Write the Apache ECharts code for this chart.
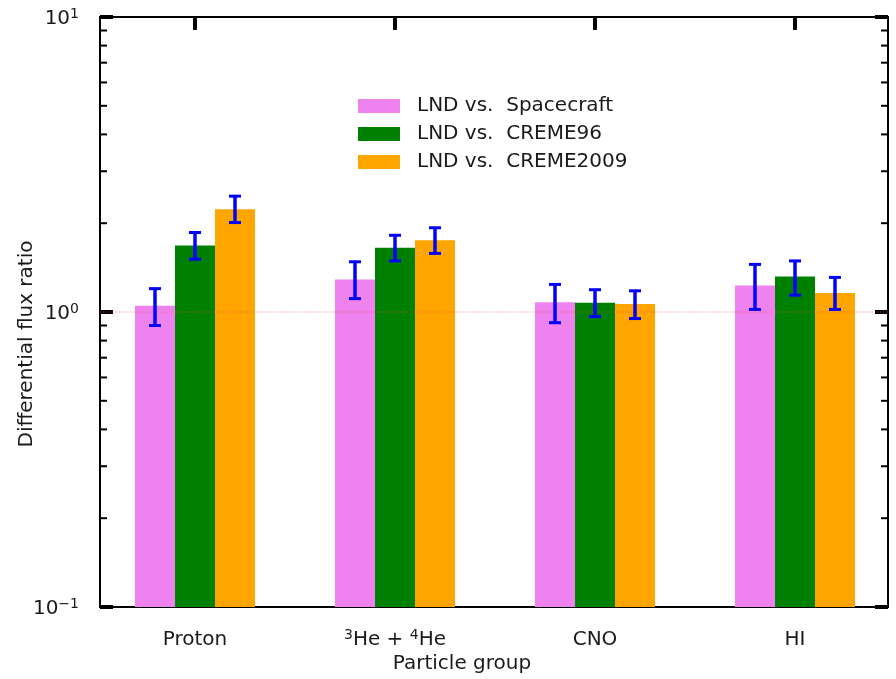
<!DOCTYPE html>
<html>
<head>
<meta charset="utf-8">
<script src="https://cdn.jsdelivr.net/npm/echarts@6/dist/echarts.min.js"></script>
<style>html,body{margin:0;padding:0;background:#fff}#c{width:896px;height:679px}</style>
</head>
<body>
<div id="c"></div>
<script>
// ---- data ----
var categories = ['Proton', '³He + ⁴He', 'CNO', 'HI'];
var seriesNames = ['LND vs.  Spacecraft', 'LND vs.  CREME96', 'LND vs.  CREME2009'];
var spacecraft   = [1.05, 1.29, 1.08, 1.23];
var spacecraftLo = [0.90, 1.11, 0.92, 1.02];
var spacecraftHi = [1.20, 1.48, 1.24, 1.45];
var creme96   = [1.68, 1.65, 1.075, 1.32];
var creme96Lo = [1.51, 1.49, 0.965, 1.14];
var creme96Hi = [1.86, 1.82, 1.19, 1.49];
var creme2009   = [2.23, 1.75, 1.065, 1.16];
var creme2009Lo = [2.01, 1.58, 0.95, 1.02];
var creme2009Hi = [2.47, 1.93, 1.18, 1.31];
var yMin = 0.1, yMax = 10;
var refValue = 1;
var minorTicks = [0.2,0.3,0.4,0.5,0.6,0.7,0.8,0.9,2,3,4,5,6,7,8,9];
var xTickValues = [0, 1, 2, 3];

// ---- layout / style ----
var colors = ['#ee82ee', '#008000', '#ffa500'];
var offsets = [-0.2, 0, 0.2];
var halfW = 0.1;
var FONT = 'DejaVu Sans';
var TXT = '#1a1a1a';

var values = [spacecraft, creme96, creme2009];
var los = [spacecraftLo, creme96Lo, creme2009Lo];
var his = [spacecraftHi, creme96Hi, creme2009Hi];

var series = [];
values.forEach(function (vals, k) {
  series.push({
    name: seriesNames[k],
    type: 'custom',
    itemStyle: { color: colors[k] },
    clip: false,
    z: 2,
    encode: { x: 0, y: 1 },
    data: vals.map(function (v, i) { return [i, v]; }),
    renderItem: function (params, api) {
      var i = api.value(0), v = api.value(1);
      var p1 = api.coord([i + offsets[k] - halfW, v]);
      var p0 = api.coord([i + offsets[k] + halfW, yMin]);
      return {
        type: 'rect',
        shape: { x: p1[0], y: p1[1], width: p0[0] - p1[0], height: p0[1] - p1[1] },
        style: { fill: colors[k] }
      };
    }
  });
});

// reference line at 1
series.push({
  type: 'custom', z: 3, clip: false, silent: true,
  data: [[0, refValue]],
  encode: { x: 0, y: 1 },
  renderItem: function (params, api) {
    var cs = params.coordSys;
    var y = api.coord([0, api.value(1)])[1];
    return { type: 'line', shape: { x1: cs.x, y1: y, x2: cs.x + cs.width, y2: y },
      style: { stroke: '#ff4d4d', opacity: 0.5, lineWidth: 1, lineDash: [1.5, 1.5] } };
  }
});

// error bars
values.forEach(function (vals, k) {
  series.push({
    type: 'custom', z: 4, clip: false, silent: true,
    data: vals.map(function (v, i) { return [i, los[k][i], his[k][i]]; }),
    encode: { x: 0, y: [1, 2] },
    renderItem: function (params, api) {
      var i = api.value(0);
      var a = api.coord([i + offsets[k], api.value(1)]);
      var b = api.coord([i + offsets[k], api.value(2)]);
      var st = { stroke: '#0000ff', lineWidth: 3.5 };
      var cs = { stroke: '#0000ff', lineWidth: 3 };
      return { type: 'group', children: [
        { type: 'line', shape: { x1: a[0], y1: a[1], x2: b[0], y2: b[1] }, style: st },
        { type: 'line', shape: { x1: a[0] - 6, y1: a[1], x2: a[0] + 6, y2: a[1] }, style: cs },
        { type: 'line', shape: { x1: b[0] - 6, y1: b[1], x2: b[0] + 6, y2: b[1] }, style: cs }
      ] };
    }
  });
});

// minor ticks on log axis
series.push({
  type: 'custom', z: 5, clip: false, silent: true,
  data: minorTicks.map(function (v) { return [0, v]; }),
  encode: { x: 0, y: 1 },
  renderItem: function (params, api) {
    var cs = params.coordSys;
    var y = api.coord([0, api.value(1)])[1];
    var st = { stroke: '#000', lineWidth: 2 };
    return { type: 'group', children: [
      { type: 'line', shape: { x1: cs.x, y1: y, x2: cs.x + 7, y2: y }, style: st },
      { type: 'line', shape: { x1: cs.x + cs.width - 7, y1: y, x2: cs.x + cs.width, y2: y }, style: st }
    ] };
  }
});

var axisLine = { show: true, onZero: false, lineStyle: { color: '#000', width: 2 } };
var majorTick = { show: true, inside: true, length: 13, lineStyle: { color: '#000', width: 4 } };

function catLabel(v) {
  var idx = Math.round(v);
  var s = categories[idx];
  if (s === undefined) return '';
  var out = '';
  var buf = '';
  for (var j = 0; j < s.length; j++) {
    var ch = s[j];
    var m = { '³': '3', '⁴': '4' }[ch];
    if (m) {
      if (buf) { out += '{b|' + buf + '}'; buf = ''; }
      out += '{s|' + m + '}';
    } else buf += ch;
  }
  if (buf) out += '{b|' + buf + '}';
  return out;
}

var rich = {
  b: { fontFamily: FONT, fontSize: 20, lineHeight: 24, color: TXT },
  s: { fontFamily: FONT, fontSize: 14, lineHeight: 14, verticalAlign: 'top', color: TXT }
};

var option = {
  animation: false,
  backgroundColor: '#fff',
  textStyle: { fontFamily: FONT },
  grid: { left: 100, right: 8, top: 17, bottom: 72, containLabel: false },
  legend: {
    data: seriesNames,
    orient: 'vertical',
    left: 353, top: 91,
    itemWidth: 42, itemHeight: 14, itemGap: 8,
    icon: 'rect',
    textStyle: { fontFamily: FONT, fontSize: 20, lineHeight: 20, color: TXT, padding: [0, 0, 0, 12] }
  },
  xAxis: [
    {
      type: 'value', min: -0.475, max: 3.465, position: 'bottom',
      axisLine: axisLine,
      axisTick: Object.assign({ customValues: xTickValues }, majorTick),
      axisLabel: { customValues: xTickValues, margin: 21, formatter: catLabel, rich: rich },
      splitLine: { show: false }
    },
    {
      type: 'value', min: -0.475, max: 3.465, position: 'top',
      axisLine: axisLine,
      axisTick: Object.assign({ customValues: xTickValues }, majorTick),
      axisLabel: { show: false, customValues: xTickValues },
      splitLine: { show: false }
    }
  ],
  yAxis: [
    {
      type: 'log', logBase: 10, min: yMin, max: yMax, position: 'left',
      axisLine: axisLine, axisTick: majorTick,
      axisLabel: {
        margin: 21,
        padding: [4, 0, 0, 0],
        formatter: function (v) {
          var e = Math.round(Math.log10(v));
          return '{b|10}{s|' + (e < 0 ? '\u2212' + (-e) : e) + '}';
        },
        rich: rich
      },
      splitLine: { show: false }, minorTick: { show: false }
    },
    {
      type: 'log', logBase: 10, min: yMin, max: yMax, position: 'right',
      axisLine: axisLine, axisTick: majorTick,
      axisLabel: { show: false },
      splitLine: { show: false }
    }
  ],
  graphic: [
    { type: 'text', x: 462, y: 664, style: { text: 'Particle group', font: '20px "DejaVu Sans"', fill: TXT, align: 'center', verticalAlign: 'middle' } },
    { type: 'text', x: 27, y: 344, rotation: Math.PI / 2, style: { text: 'Differential flux ratio', font: '20px "DejaVu Sans"', fill: TXT, align: 'center', verticalAlign: 'middle' } }
  ],
  series: series
};

var chart = echarts.init(document.getElementById('c'), null, { renderer: 'canvas' });
chart.setOption(option);
</script>
</body>
</html>
